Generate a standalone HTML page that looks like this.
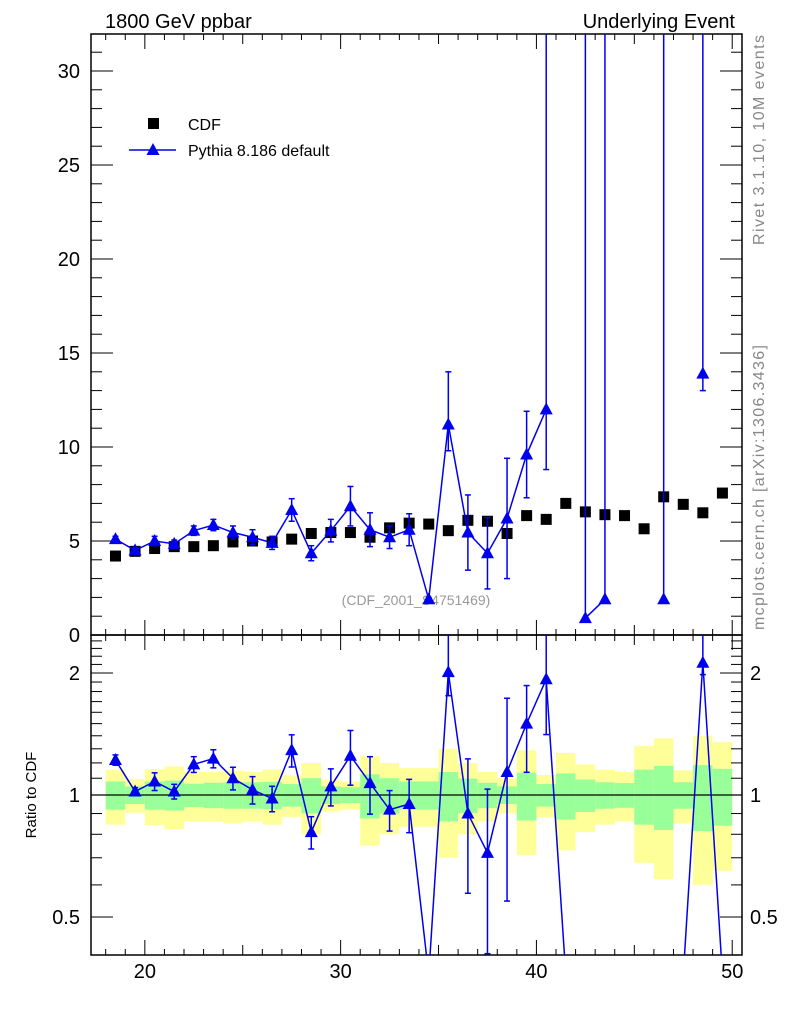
<!DOCTYPE html>
<html><head><meta charset="utf-8"><style>
body{margin:0;background:#fff;width:786px;height:1024px;overflow:hidden;font-family:"Liberation Sans",sans-serif}
</style></head><body>
<svg id="c" width="786" height="1024" xmlns="http://www.w3.org/2000/svg" font-family="Liberation Sans, sans-serif" style="display:block;overflow:hidden"></svg>
<script>
const bins=[18.5,19.5,20.5,21.5,22.5,23.5,24.5,25.5,26.5,27.5,28.5,29.5,30.5,31.5,32.5,33.5,34.5,35.5,36.5,37.5,38.5,39.5,40.5,41.5,42.5,43.5,44.5,45.5,46.5,47.5,48.5,49.5];
const cdfValues=[4.2,4.45,4.6,4.7,4.7,4.75,4.95,5.0,4.95,5.1,5.4,5.45,5.45,5.2,5.7,5.95,5.9,5.55,6.1,6.05,5.4,6.35,6.15,7.0,6.55,6.4,6.35,5.65,7.35,6.95,6.5,7.55];
const pythiaValues=[5.1,4.5,5.0,4.85,5.55,5.85,5.45,5.2,4.9,6.65,4.35,5.55,6.85,5.6,5.2,5.6,1.9,11.2,5.45,4.35,6.2,9.6,12.0,null,0.9,1.9,null,null,1.9,null,13.9,null];
const pythiaErrUp=[0.15,0.1,0.25,0.2,0.25,0.3,0.35,0.4,0.35,0.6,0.4,0.6,1.05,0.9,0.6,0.85,0.1,2.8,2.0,1.9,3.2,2.3,30,0,40,40,0,0,40,0,30,0];
const pythiaErrDn=[0.15,0.1,0.25,0.2,0.25,0.3,0.35,0.4,0.35,0.6,0.4,0.6,1.05,0.9,0.6,0.85,0.1,1.4,2.0,1.9,3.2,2.3,3.2,0,0,0,0,0,0,0,0.9,0];
const ratioValues=[1.22,1.02,1.08,1.02,1.19,1.23,1.10,1.03,0.98,1.29,0.81,1.05,1.25,1.07,0.92,0.95,0.32,2.01,0.90,0.72,1.14,1.5,1.93,0.19,0.14,0.14,0.14,0.14,0.14,0.01,2.12,0.01];
const yellowRel=[0.155,0.096,0.157,0.176,0.14,0.14,0.15,0.14,0.155,0.117,0.2,0.09,0.08,0.25,0.2,0.165,0.165,0.3,0.2,0.14,0.1,0.29,0.12,0.27,0.19,0.155,0.14,0.32,0.38,0.15,0.4,0.35];
const greenRel=[0.08,0.05,0.08,0.085,0.066,0.072,0.075,0.075,0.078,0.064,0.1,0.05,0.045,0.125,0.1,0.08,0.08,0.14,0.098,0.072,0.05,0.135,0.064,0.13,0.092,0.075,0.07,0.155,0.18,0.075,0.185,0.16];
const xTicks=[20,30,40,50];
const yTicks=[0,5,10,15,20,25,30];
const rTicks=[0.5,1,2];

const NS="http://www.w3.org/2000/svg",svg=document.getElementById('c');
const L=91,R=742,T=34,MB=635,RB=955;
const X=v=>L+(v-17.25)*(R-L)/(50.5-17.25);
const clampY=y=>Math.max(T-20,Math.min(RB+20,y));
const Y=v=>clampY(MB-v*18.8);
const RY=v=>clampY(795-Math.log2(Math.max(v,0.05))*122);
function el(t,a,p){const e=document.createElementNS(NS,t);for(const k in a)e.setAttribute(k,a[k]);(p||svg).appendChild(e);return e;}
const defs=el('defs',{});
const c1=el('clipPath',{id:'cm'},defs);el('rect',{x:L,y:T,width:R-L,height:MB-T},c1);
const c2=el('clipPath',{id:'cr'},defs);el('rect',{x:L,y:MB,width:R-L,height:RB-MB},c2);

const gb=el('g',{'clip-path':'url(#cr)'});

bins.forEach((b,i)=>{
 const x0=X(b-0.5),w=X(b+0.5)-x0;
 const y=el('rect',{x:x0,y:RY(1+yellowRel[i]),width:w,height:RY(1-yellowRel[i])-RY(1+yellowRel[i]),fill:'#ffff99'},gb);
 
 const g=el('rect',{x:x0,y:RY(1+greenRel[i]),width:w,height:RY(1-greenRel[i])-RY(1+greenRel[i]),fill:'#99ff99'},gb);
 
});
el('line',{x1:L,x2:R,y1:RY(1),y2:RY(1),stroke:'#000','stroke-width':1.2});

for(const [t,b] of [[T,MB],[MB,RB]]){const f=el('rect',{x:L,y:t,width:R-L,height:b-t,fill:'none',stroke:'#000','stroke-width':1.5});}
for(let v=18;v<=50;v++){const len=v%10==0?15:(v%5==0?10:6);
 for(const [t,b] of [[T,MB],[MB,RB]]){el('line',{x1:X(v),x2:X(v),y1:b,y2:b-len,stroke:'#000'});el('line',{x1:X(v),x2:X(v),y1:t,y2:t+len,stroke:'#000'});}}
xTicks.forEach(v=>{const t=el('text',{x:X(v),y:978,'font-size':20,'text-anchor':'middle'});t.textContent=v;});
for(let v=0;v<=31;v++){const len=v%5==0?22:11;el('line',{x1:L,x2:L+len,y1:Y(v),y2:Y(v),stroke:'#000'});el('line',{x1:R,x2:R-len,y1:Y(v),y2:Y(v),stroke:'#000'});}
yTicks.forEach(v=>{const t=el('text',{x:80,y:Y(v)+7,'font-size':20,'text-anchor':'end'});t.textContent=v;});
[0.5,0.6,0.7,0.8,0.9,1,1.1,1.2,1.3,1.4,1.5,1.6,1.7,1.8,1.9,2,2.1,2.2,2.3,2.4].forEach(v=>{const len=(v==0.5||v==1||v==2)?22:11;
 el('line',{x1:L,x2:L+len,y1:RY(v),y2:RY(v),stroke:'#000'});el('line',{x1:R,x2:R-len,y1:RY(v),y2:RY(v),stroke:'#000'});});
rTicks.forEach(v=>{for(const [x,a] of [[80,'end'],[750,'start']]){const t=el('text',{x:x,y:RY(v)+7,'font-size':20,'text-anchor':a});t.textContent=v;}});

const wm=el('text',{x:416,y:605,'font-size':14,fill:'#999','text-anchor':'middle'});wm.textContent='(CDF_2001_S4751469)';

const gm=el('g',{'clip-path':'url(#cm)'});
bins.forEach((b,i)=>{const s=el('rect',{x:X(b)-5.5,y:Y(cdfValues[i])-5.5,width:11,height:11,fill:'#000'},gm);});
let seg=[];const segs=[];
bins.forEach((b,i)=>{if(pythiaValues[i]==null){if(seg.length)segs.push(seg);seg=[];}else seg.push([X(b),Y(pythiaValues[i])]);});if(seg.length)segs.push(seg);
segs.forEach(s=>{if(s.length>1){const p=el('polyline',{points:s.map(q=>q.join(',')).join(' '),fill:'none',stroke:'#0000ee','stroke-width':1.5},gm);}});
function tri(x,y,g){const t=el('polygon',{points:`${x},${y-7} ${x-6.5},${y+5} ${x+6.5},${y+5}`,fill:'#0000ee'},g);}
function ebar(x,y1,y2,g){el('line',{x1:x,x2:x,y1:y1,y2:y2,stroke:'#0000ee','stroke-width':1.5},g);[y1,y2].forEach(y=>el('line',{x1:x-3,x2:x+3,y1:y,y2:y,stroke:'#0000ee','stroke-width':1.5},g));}
bins.forEach((b,i)=>{const v=pythiaValues[i];if(v==null)return;ebar(X(b),Y(v+pythiaErrUp[i]),Y(v-pythiaErrDn[i]),gm);tri(X(b),Y(v),gm);});

const gr=el('g',{'clip-path':'url(#cr)'});
const rp=el('polyline',{points:bins.map((b,i)=>X(b)+','+RY(ratioValues[i])).join(' '),fill:'none',stroke:'#0000ee','stroke-width':1.5},gr);

bins.forEach((b,i)=>{const v=pythiaValues[i];if(v==null)return;const r=ratioValues[i];
 if(r<0.4)return;
 const up=Math.min(r+pythiaErrUp[i]/cdfValues[i],50),dn=Math.max(r-pythiaErrDn[i]/cdfValues[i],0.05);
 ebar(X(b),RY(up),RY(dn),gr);tri(X(b),RY(r),gr);});

const lg=el('g',{});
el('rect',{x:148,y:118,width:11,height:11,fill:'#000'},lg);
let t=el('text',{x:188,y:130,'font-size':16},lg);t.textContent='CDF';
el('line',{x1:129,x2:176,y1:150,y2:150,stroke:'#0000ee','stroke-width':1.5},lg);tri(153,150,lg);
t=el('text',{x:188,y:156,'font-size':16},lg);t.textContent='Pythia 8.186 default';

t=el('text',{x:105,y:28,'font-size':20});t.textContent='1800 GeV ppbar';
t=el('text',{x:735,y:28,'font-size':20,'text-anchor':'end'});t.textContent='Underlying Event';
t=el('text',{x:0,y:0,'font-size':16,fill:'#888','text-anchor':'end','textLength':210,transform:'translate(764,35) rotate(-90)'});t.textContent='Rivet 3.1.10,  10M events';
t=el('text',{x:0,y:0,'font-size':16,fill:'#888','text-anchor':'end','textLength':285,transform:'translate(764,345) rotate(-90)'});t.textContent='mcplots.cern.ch [arXiv:1306.3436]';
t=el('text',{x:0,y:0,'font-size':15,'text-anchor':'middle',transform:'translate(36,795) rotate(-90)'});t.textContent='Ratio to CDF';
</script>
</body></html>
